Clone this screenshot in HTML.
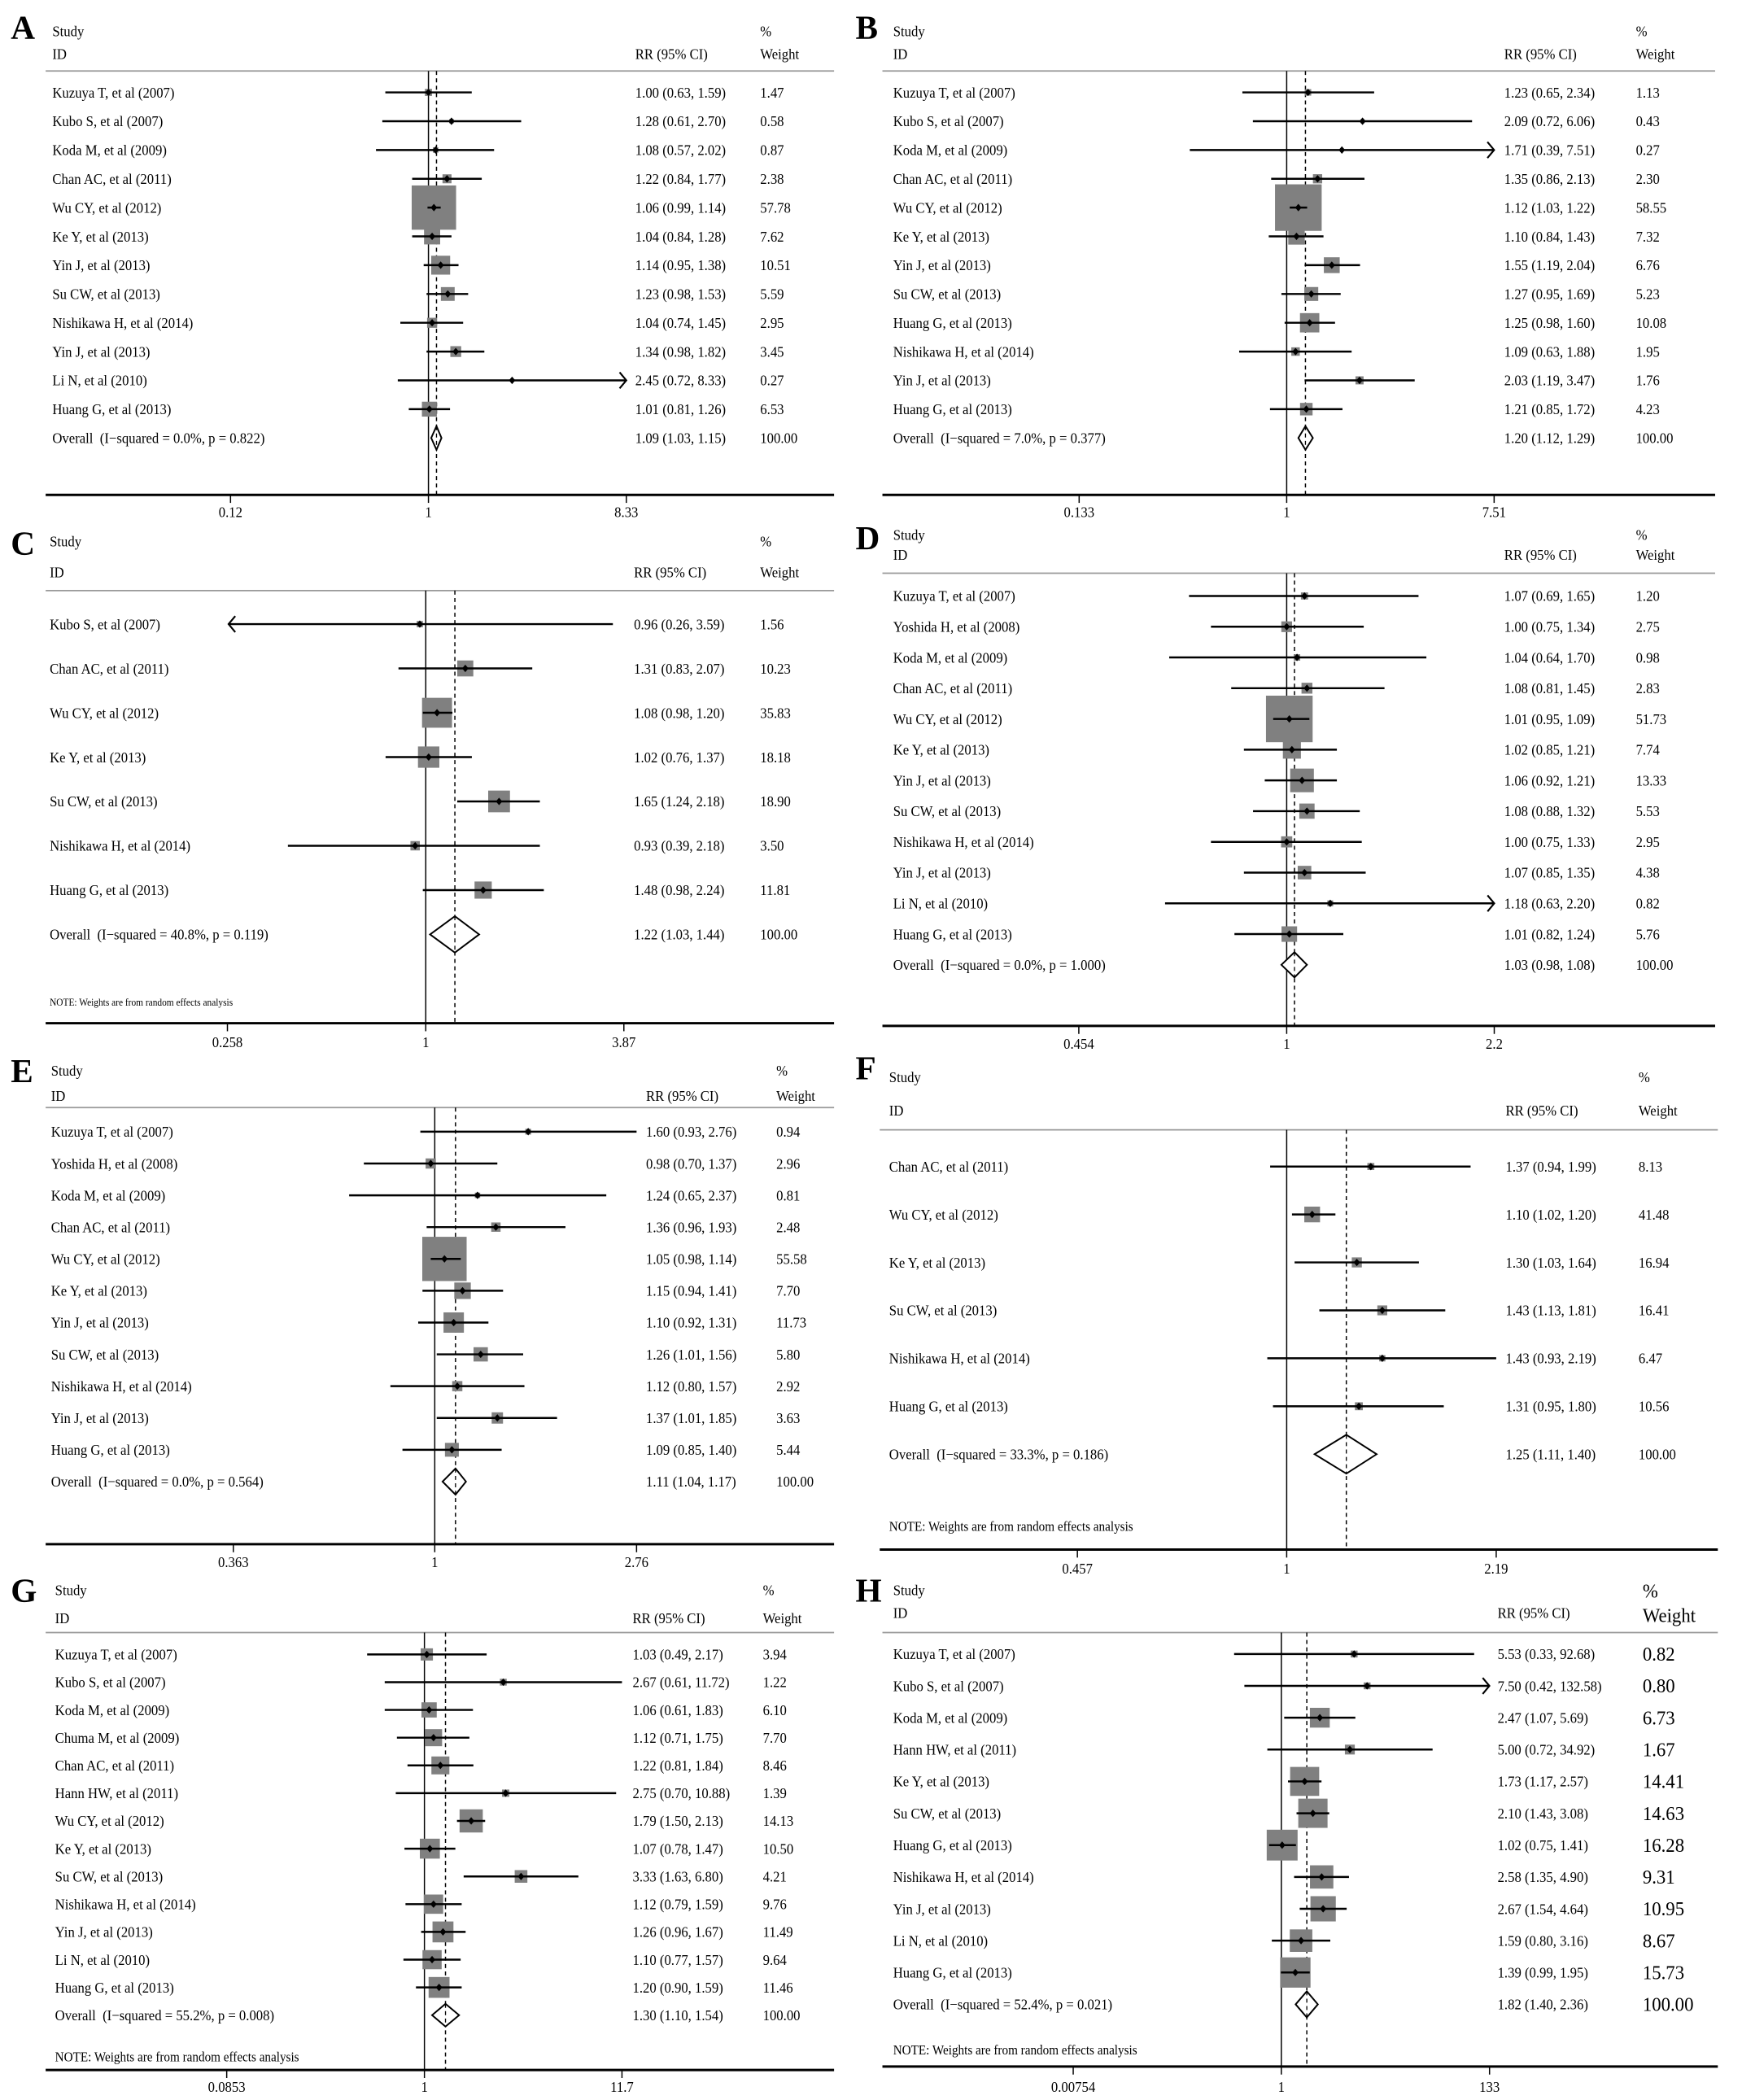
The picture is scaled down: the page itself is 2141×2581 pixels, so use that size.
<!DOCTYPE html>
<html><head><meta charset="utf-8"><title>Forest plots A-H</title>
<style>
html,body{margin:0;padding:0;background:#fff;}
svg{display:block;}
text{font-family:"Liberation Serif","Times New Roman",serif;fill:#000;}
</style></head>
<body>
<svg id="fig" xmlns="http://www.w3.org/2000/svg" width="2141" height="2581" viewBox="0 0 1297 1568" preserveAspectRatio="none"></svg>
<script>
// ---------- DATA (top level) ----------
const aStudies=["Kuzuya T, et al (2007)","Kubo S, et al (2007)","Koda M, et al (2009)","Chan AC, et al (2011)","Wu CY, et al (2012)","Ke Y, et al (2013)","Yin J, et al (2013)","Su CW, et al (2013)","Nishikawa H, et al (2014)","Yin J, et al (2013)","Li N, et al (2010)","Huang G, et al (2013)"];
const aRR=[1.00,1.28,1.08,1.22,1.06,1.04,1.14,1.23,1.04,1.34,2.45,1.01];
const aLo=[0.63,0.61,0.57,0.84,0.99,0.84,0.95,0.98,0.74,0.98,0.72,0.81];
const aHi=[1.59,2.70,2.02,1.77,1.14,1.28,1.38,1.53,1.45,1.82,8.33,1.26];
const aWeight=[1.47,0.58,0.87,2.38,57.78,7.62,10.51,5.59,2.95,3.45,0.27,6.53];
const aOverall=[1.09,1.03,1.15]; const aHet=["0.0%","0.822"]; const aTicks=[0.12,1,8.33];

const bStudies=["Kuzuya T, et al (2007)","Kubo S, et al (2007)","Koda M, et al (2009)","Chan AC, et al (2011)","Wu CY, et al (2012)","Ke Y, et al (2013)","Yin J, et al (2013)","Su CW, et al (2013)","Huang G, et al (2013)","Nishikawa H, et al (2014)","Yin J, et al (2013)","Huang G, et al (2013)"];
const bRR=[1.23,2.09,1.71,1.35,1.12,1.10,1.55,1.27,1.25,1.09,2.03,1.21];
const bLo=[0.65,0.72,0.39,0.86,1.03,0.84,1.19,0.95,0.98,0.63,1.19,0.85];
const bHi=[2.34,6.06,7.51,2.13,1.22,1.43,2.04,1.69,1.60,1.88,3.47,1.72];
const bWeight=[1.13,0.43,0.27,2.30,58.55,7.32,6.76,5.23,10.08,1.95,1.76,4.23];
const bOverall=[1.20,1.12,1.29]; const bHet=["7.0%","0.377"]; const bTicks=[0.133,1,7.51];

const cStudies=["Kubo S, et al (2007)","Chan AC, et al (2011)","Wu CY, et al (2012)","Ke Y, et al (2013)","Su CW, et al (2013)","Nishikawa H, et al (2014)","Huang G, et al (2013)"];
const cRR=[0.96,1.31,1.08,1.02,1.65,0.93,1.48];
const cLo=[0.26,0.83,0.98,0.76,1.24,0.39,0.98];
const cHi=[3.59,2.07,1.20,1.37,2.18,2.18,2.24];
const cWeight=[1.56,10.23,35.83,18.18,18.90,3.50,11.81];
const cOverall=[1.22,1.03,1.44]; const cHet=["40.8%","0.119"]; const cTicks=[0.258,1,3.87];

const dStudies=["Kuzuya T, et al (2007)","Yoshida H, et al (2008)","Koda M, et al (2009)","Chan AC, et al (2011)","Wu CY, et al (2012)","Ke Y, et al (2013)","Yin J, et al (2013)","Su CW, et al (2013)","Nishikawa H, et al (2014)","Yin J, et al (2013)","Li N, et al (2010)","Huang G, et al (2013)"];
const dRR=[1.07,1.00,1.04,1.08,1.01,1.02,1.06,1.08,1.00,1.07,1.18,1.01];
const dLo=[0.69,0.75,0.64,0.81,0.95,0.85,0.92,0.88,0.75,0.85,0.63,0.82];
const dHi=[1.65,1.34,1.70,1.45,1.09,1.21,1.21,1.32,1.33,1.35,2.20,1.24];
const dWeight=[1.20,2.75,0.98,2.83,51.73,7.74,13.33,5.53,2.95,4.38,0.82,5.76];
const dOverall=[1.03,0.98,1.08]; const dHet=["0.0%","1.000"]; const dTicks=[0.454,1,2.2];

const eStudies=["Kuzuya T, et al (2007)","Yoshida H, et al (2008)","Koda M, et al (2009)","Chan AC, et al (2011)","Wu CY, et al (2012)","Ke Y, et al (2013)","Yin J, et al (2013)","Su CW, et al (2013)","Nishikawa H, et al (2014)","Yin J, et al (2013)","Huang G, et al (2013)"];
const eRR=[1.60,0.98,1.24,1.36,1.05,1.15,1.10,1.26,1.12,1.37,1.09];
const eLo=[0.93,0.70,0.65,0.96,0.98,0.94,0.92,1.01,0.80,1.01,0.85];
const eHi=[2.76,1.37,2.37,1.93,1.14,1.41,1.31,1.56,1.57,1.85,1.40];
const eWeight=[0.94,2.96,0.81,2.48,55.58,7.70,11.73,5.80,2.92,3.63,5.44];
const eOverall=[1.11,1.04,1.17]; const eHet=["0.0%","0.564"]; const eTicks=[0.363,1,2.76];

const fStudies=["Chan AC, et al (2011)","Wu CY, et al (2012)","Ke Y, et al (2013)","Su CW, et al (2013)","Nishikawa H, et al (2014)","Huang G, et al (2013)"];
const fRR=[1.37,1.10,1.30,1.43,1.43,1.31];
const fLo=[0.94,1.02,1.03,1.13,0.93,0.95];
const fHi=[1.99,1.20,1.64,1.81,2.19,1.80];
const fWeight=[8.13,41.48,16.94,16.41,6.47,10.56];
const fOverall=[1.25,1.11,1.40]; const fHet=["33.3%","0.186"]; const fTicks=[0.457,1,2.19];

const gStudies=["Kuzuya T, et al (2007)","Kubo S, et al (2007)","Koda M, et al (2009)","Chuma M, et al (2009)","Chan AC, et al (2011)","Hann HW, et al (2011)","Wu CY, et al (2012)","Ke Y, et al (2013)","Su CW, et al (2013)","Nishikawa H, et al (2014)","Yin J, et al (2013)","Li N, et al (2010)","Huang G, et al (2013)"];
const gRR=[1.03,2.67,1.06,1.12,1.22,2.75,1.79,1.07,3.33,1.12,1.26,1.10,1.20];
const gLo=[0.49,0.61,0.61,0.71,0.81,0.70,1.50,0.78,1.63,0.79,0.96,0.77,0.90];
const gHi=[2.17,11.72,1.83,1.75,1.84,10.88,2.13,1.47,6.80,1.59,1.67,1.57,1.59];
const gWeight=[3.94,1.22,6.10,7.70,8.46,1.39,14.13,10.50,4.21,9.76,11.49,9.64,11.46];
const gOverall=[1.30,1.10,1.54]; const gHet=["55.2%","0.008"]; const gTicks=[0.0853,1,11.7];

const hStudies=["Kuzuya T, et al (2007)","Kubo S, et al (2007)","Koda M, et al (2009)","Hann HW, et al (2011)","Ke Y, et al (2013)","Su CW, et al (2013)","Huang G, et al (2013)","Nishikawa H, et al (2014)","Yin J, et al (2013)","Li N, et al (2010)","Huang G, et al (2013)"];
const hRR=[5.53,7.50,2.47,5.00,1.73,2.10,1.02,2.58,2.67,1.59,1.39];
const hLo=[0.33,0.42,1.07,0.72,1.17,1.43,0.75,1.35,1.54,0.80,0.99];
const hHi=[92.68,132.58,5.69,34.92,2.57,3.08,1.41,4.90,4.64,3.16,1.95];
const hWeight=[0.82,0.80,6.73,1.67,14.41,14.63,16.28,9.31,10.95,8.67,15.73];
const hOverall=[1.82,1.40,2.36]; const hHet=["52.4%","0.021"]; const hTicks=[0.00754,1,133];

// ---------- LAYOUT ----------
const NS="http://www.w3.org/2000/svg";
const svg=document.getElementById('fig');
function mk(tag,attrs,parent){const e=document.createElementNS(NS,tag);for(const k in attrs)e.setAttribute(k,attrs[k]);(parent||svg).appendChild(e);return e;}
function fmt(v){return v.toFixed(2);}

const panels=[
 {id:'a',L:'A',S:aStudies,R:aRR,lo:aLo,hi:aHi,W:aWeight,O:aOverall,H:aHet,T:aTicks,left:34,right:621,tx:39,lx:8,ly:29,sy:27,iy:44,hdr:53,r0:69,step:21.5,axis:369.5,tky:386,nx:319,sc:69.5,rrx:473,wx:566,k:4.35,note:null,arrows:true},
 {id:'b',L:'B',S:bStudies,R:bRR,lo:bLo,hi:bHi,W:bWeight,O:bOverall,H:bHet,T:bTicks,left:657,right:1277,tx:665,lx:637,ly:29,sy:27,iy:44,hdr:53,r0:69,step:21.5,axis:369.5,tky:386,nx:958,sc:76.6,rrx:1120,wx:1218,k:4.54,note:null,arrows:true},
 {id:'c',L:'C',S:cStudies,R:cRR,lo:cLo,hi:cHi,W:cWeight,O:cOverall,H:cHet,T:cTicks,left:34,right:621,tx:37,lx:8,ly:414,sy:408,iy:431,hdr:441,r0:466,step:33.1,axis:764,tky:782,nx:317,sc:109,rrx:472,wx:566,k:3.73,note:{y:748,fs:7.5},arrows:true},
 {id:'d',L:'D',S:dStudies,R:dRR,lo:dLo,hi:dHi,W:dWeight,O:dOverall,H:dHet,T:dTicks,left:657,right:1277,tx:665,lx:637,ly:410,sy:403,iy:418,hdr:428,r0:445,step:22.95,axis:766,tky:783,nx:958,sc:196,rrx:1120,wx:1218,k:4.83,note:null,arrows:true},
 {id:'e',L:'E',S:eStudies,R:eRR,lo:eLo,hi:eHi,W:eWeight,O:eOverall,H:eHet,T:eTicks,left:34,right:621,tx:38,lx:8,ly:808,sy:803,iy:822,hdr:827,r0:845,step:23.75,axis:1153,tky:1170,nx:323.7,sc:148,rrx:481,wx:578,k:4.43,note:null,arrows:false},
 {id:'f',L:'F',S:fStudies,R:fRR,lo:fLo,hi:fHi,W:fWeight,O:fOverall,H:fHet,T:fTicks,left:655,right:1279,tx:662,lx:637,ly:806,sy:808,iy:833,hdr:843.6,r0:871,step:35.8,axis:1157,tky:1175,nx:958,sc:199,rrx:1121,wx:1220,k:1.82,note:{y:1140,fs:10},arrows:false},
 {id:'g',L:'G',S:gStudies,R:gRR,lo:gLo,hi:gHi,W:gWeight,O:gOverall,H:gHet,T:gTicks,left:34,right:621,tx:41,lx:8,ly:1196,sy:1191,iy:1212,hdr:1219,r0:1235.3,step:20.72,axis:1545.6,tky:1562,nx:316,sc:59.8,rrx:471,wx:568,k:4.6,note:{y:1536,fs:10},arrows:false},
 {id:'h',L:'H',S:hStudies,R:hRR,lo:hLo,hi:hHi,W:hWeight,O:hOverall,H:hHet,T:hTicks,left:657,right:1279,tx:665,lx:637,ly:1196,sy:1191,iy:1208,hdr:1219,r0:1235,step:23.78,axis:1543,tky:1562,nx:954,sc:31.7,rrx:1115,wx:1223,k:5.7,note:{y:1531,fs:10},bigW:true,arrows:true}
];

panels.forEach(p=>{
  const g=mk('g',{});
  
  
  const xs=v=>p.nx+p.sc*Math.log(v);
  const xmin=xs(p.T[0]), xmax=xs(p.T[p.T.length-1]);
  const rowY=i=>p.r0+i*p.step;
  const n=p.S.length;
  const fs=11;

  let t=mk('text',{x:p.lx,y:p.ly,'font-size':25,'font-weight':'bold'},g); t.textContent=p.L;
  
  
  t=mk('text',{x:p.tx,y:p.sy,'font-size':fs},g); t.textContent='Study';
  
  
  t=mk('text',{x:p.tx,y:p.iy,'font-size':fs},g); t.textContent='ID';
  
  
  t=mk('text',{x:p.rrx,y:p.iy,'font-size':fs},g); t.textContent='RR (95% CI)';
  
  
  const hfs=p.bigW?15:fs;
  t=mk('text',{x:p.wx,y:p.sy+(p.bigW?2:0),'font-size':hfs},g); t.textContent='%';
  
  
  t=mk('text',{x:p.wx,y:p.iy+(p.bigW?3:0),'font-size':hfs},g); t.textContent='Weight';
  
  

  let l=mk('line',{x1:p.left,x2:p.right,y1:p.hdr,y2:p.hdr,stroke:'#999','stroke-width':1.1},g);
  
  
  l=mk('line',{x1:p.nx,x2:p.nx,y1:p.hdr,y2:p.axis,stroke:'#000','stroke-width':0.9},g);
  
  
  const ox=xs(p.O[0]);
  l=mk('line',{x1:ox,x2:ox,y1:p.hdr,y2:p.axis,stroke:'#000','stroke-width':0.9,'stroke-dasharray':'3,2.5'},g);
  
  
  l=mk('line',{x1:p.left,x2:p.right,y1:p.axis,y2:p.axis,stroke:'#000','stroke-width':1.8},g);
  
  

  p.T.forEach(tv=>{
    const tx=xs(tv);
    const tk=mk('line',{x1:tx,x2:tx,y1:p.axis,y2:p.axis+6,stroke:'#000','stroke-width':0.9},g);
    
    
    const tl=mk('text',{x:tx,y:p.tky,'font-size':fs,'text-anchor':'middle'},g); tl.textContent=String(tv);
    
    
  });

  for(let i=0;i<n;i++){
    const y=rowY(i);
    const lab=mk('text',{x:p.tx,y:y+3.8,'font-size':fs},g); lab.textContent=p.S[i];
    
    
    const side=p.k*Math.sqrt(p.W[i]);
    const cx=xs(p.R[i]);
    const box=mk('rect',{x:cx-side/2,y:y-side/2,width:side,height:side,fill:'#808080'},g);
    
    
    const leftArrow=p.arrows && p.lo[i]<=p.T[0]*1.02, rightArrow=p.arrows && p.hi[i]>=p.T[2]*0.98;
    const x1=Math.max(xs(p.lo[i]),xmin), x2=Math.min(xs(p.hi[i]),xmax);
    const ci=mk('line',{x1:x1,x2:x2,y1:y,y2:y,stroke:'#000','stroke-width':1.5},g);
    
    
    if(rightArrow){
      const a=mk('polyline',{points:`${x2-5},${y-6} ${x2},${y} ${x2-5},${y+6}`,fill:'none',stroke:'#000','stroke-width':1.3},g);
      
      
    }
    if(leftArrow){
      const a=mk('polyline',{points:`${x1+5},${y-6} ${x1},${y} ${x1+5},${y+6}`,fill:'none',stroke:'#000','stroke-width':1.3},g);
      
      
    }
    const d=mk('polygon',{points:`${cx},${y-2.8} ${cx+2.4},${y} ${cx},${y+2.8} ${cx-2.4},${y}`,fill:'#000'},g);
    
    
    const rr=mk('text',{x:p.rrx,y:y+3.8,'font-size':fs},g);
    rr.textContent=fmt(p.R[i])+' ('+fmt(p.lo[i])+', '+fmt(p.hi[i])+')';
    
    
    const wt=mk('text',{x:p.wx,y:y+(p.bigW?5:3.8),'font-size':p.bigW?15:fs},g);
    wt.textContent=fmt(p.W[i]);
    
    
  }
  // overall
  const oy=rowY(n);
  const hh=Math.min(p.step*0.41,14.5);
  const dx1=xs(p.O[1]), dx2=xs(p.O[2]);
  const dm=mk('polygon',{points:`${dx1},${oy} ${ox},${oy-hh} ${dx2},${oy} ${ox},${oy+hh}`,fill:'#fff',stroke:'#000','stroke-width':1.2},g);
  
  
  const ol=mk('line',{x1:ox,x2:ox,y1:oy-hh,y2:oy+hh,stroke:'#000','stroke-width':0.8,'stroke-dasharray':'3,2.5'},g);
  
  
  let ot=mk('text',{x:p.tx,y:oy+3.8,'font-size':fs},g);
  ot.textContent='Overall\u00a0\u00a0(I\u2212squared = '+p.H[0]+', p = '+p.H[1]+')';
  
  
  ot=mk('text',{x:p.rrx,y:oy+3.8,'font-size':fs},g);
  ot.textContent=fmt(p.O[0])+' ('+fmt(p.O[1])+', '+fmt(p.O[2])+')';
  
  
  ot=mk('text',{x:p.wx,y:oy+(p.bigW?5:3.8),'font-size':p.bigW?15:fs},g);
  ot.textContent='100.00';
  
  
  if(p.note){
    const nt=mk('text',{x:p.tx,y:p.note.y+3,'font-size':p.note.fs},g);
    nt.textContent='NOTE: Weights are from random effects analysis';
    
    
  }
});

// condense text horizontally to mimic the narrow Times face of the original
document.querySelectorAll('#fig text').forEach(t=>{
  if(t.getAttribute('font-weight')==='bold') return;
  const w=t.getComputedTextLength();
  if(w>0){t.setAttribute('textLength',(w*0.92).toFixed(2));t.setAttribute('lengthAdjust','spacingAndGlyphs');}
});
</script>
</body></html>
